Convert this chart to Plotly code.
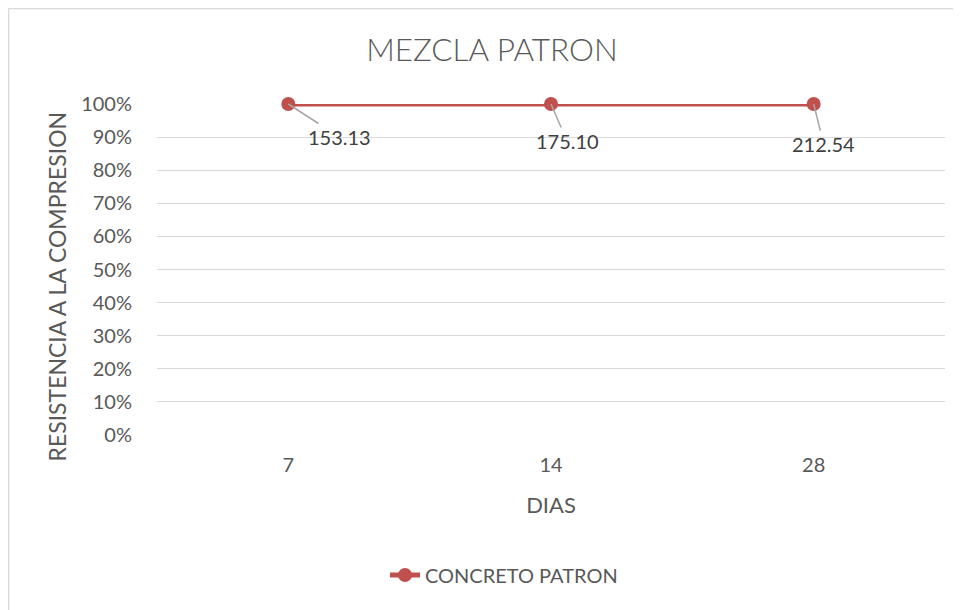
import plotly.graph_objects as go

# data
dias = ["7", "14", "28"]
porcentaje = [1.0, 1.0, 1.0]
resistencia = [153.13, 175.10, 212.54]
y_ticks = [0, 0.1, 0.2, 0.3, 0.4, 0.5, 0.6, 0.7, 0.8, 0.9, 1.0]

RED = "#C0504D"
GRID = "#D9D9D9"
TXT = "#595959"
FONT = "Lato"

# the page body adds an 8px margin, so the figure is 8px smaller than the window
W, H = 953, 602
L, T, PW, PH = 149, 96, 788, 331

fig = go.Figure()
fig.add_trace(go.Scatter(
    x=dias, y=porcentaje, mode="lines+markers", name="CONCRETO PATRON",
    line=dict(color=RED, width=5), marker=dict(color=RED, size=14),
    cliponaxis=False,
))

# data labels with leader lines (offsets in pixels)
offsets = [(51, 33), (16, 37), (10, 40)]
for i, (r, (ax, ay)) in enumerate(zip(resistencia, offsets)):
    fig.add_annotation(
        x=i, y=porcentaje[i], text=f"{r:.2f}", showarrow=True, arrowhead=0,
        arrowwidth=1.5, arrowcolor="#A6A6A6", ax=ax, ay=ay,
        font=dict(family=FONT, size=20, color="#404040"),
    )

# y axis title, placed like Excel does (a bit below the plot centre)
fig.add_annotation(
    text="RESISTENCIA A LA COMPRESION", textangle=-90, showarrow=False,
    xref="paper", yref="paper", x=(48 - L) / PW, y=(T + PH - 278.5) / PH,
    xanchor="center", yanchor="middle",
    font=dict(family=FONT, size=23, color=TXT),
)

# chart-area border: only its left and top edges fall inside the picture
bx = (0.5 - L) / PW
by = (T + PH - 0.5) / PH
for x0, y0, x1, y1 in [(bx, by, 1.2, by), (bx, by, bx, -0.7)]:
    fig.add_shape(type="line", xref="paper", yref="paper",
                  x0=x0, y0=y0, x1=x1, y1=y1, line=dict(color=GRID, width=1.5))

fig.update_layout(
    width=W, height=H,
    margin=dict(l=L, r=W - L - PW, t=T, b=H - T - PH),
    paper_bgcolor="white", plot_bgcolor="white",
    font=dict(family=FONT, color=TXT, size=20),
    title=dict(text="MEZCLA PATRON", x=484 / W, xref="container", xanchor="center",
               y=1 - 42 / H, yref="container", yanchor="middle",
               font=dict(family=FONT, size=31.5, color=TXT, weight=300)),
    showlegend=True,
    legend=dict(orientation="h", x=496 / W, xref="container", xanchor="center",
                y=1 - 567 / H, yref="container", yanchor="middle",
                font=dict(family=FONT, size=20, color=TXT)),
    xaxis=dict(
        type="category", range=[-0.5, 2.5], showgrid=False, showline=False,
        ticks="", tickfont=dict(size=20, color=TXT), zeroline=False,
        ticklabelstandoff=16,
        title=dict(text="DIAS", font=dict(size=22, color=TXT), standoff=22),
    ),
    yaxis=dict(
        range=[0, 1], tickvals=y_ticks, tickformat=".0%", showgrid=True,
        gridcolor=GRID, gridwidth=1, zeroline=False, showline=False,
        ticklabelstandoff=24, tickfont=dict(size=20, color=TXT),
    ),
)

fig.write_html("out.html")
